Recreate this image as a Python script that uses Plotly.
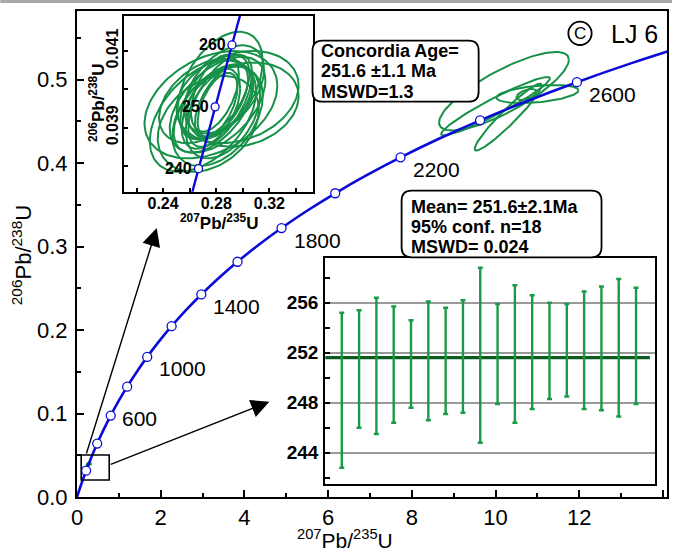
import numpy as np
import plotly.graph_objects as go

# ---------------- data ----------------
# Concordia curve (age in Ma, 207Pb/235U, 206Pb/238U)
conc_age = [0, 100, 200, 300, 400, 500, 600, 700, 800, 900, 1000, 1100, 1200, 1300, 1400,
            1500, 1600, 1700, 1800, 1900, 2000, 2100, 2200, 2300, 2400, 2500, 2600, 2700, 2800]
conc_x = [0.0, 0.10350, 0.21771, 0.34373, 0.48281, 0.63624, 0.80558, 0.99243, 1.19862, 1.42615,
          1.67744, 1.95452, 2.26031, 2.59777, 2.97010, 3.38104, 3.83431, 4.33487, 4.88666, 5.49588,
          6.16852, 6.91045, 7.72920, 8.63272, 9.62961, 10.72982, 11.94343, 13.28352, 14.76090]
conc_y = [0.0, 0.015633, 0.031511, 0.047637, 0.064016, 0.080650, 0.097544, 0.114702, 0.132128,
          0.149826, 0.167802, 0.186060, 0.204603, 0.223436, 0.242563, 0.261987, 0.281717, 0.301754,
          0.322103, 0.342773, 0.363766, 0.385086, 0.406739, 0.428730, 0.451067, 0.473751, 0.496791,
          0.520190, 0.543957]
marker_ages = [200, 400, 600, 800, 1000, 1200, 1400, 1600, 1800, 2000, 2200, 2400, 2600]
label_ages = [600, 1000, 1400, 1800, 2200, 2600]
label_dx = [9, 10, 10, 10, 10, 10]      # pixel offsets of the age labels
label_dy = [-3, -12, -12, -12, -12, -12]

# Concordia in the zoomed inset
inset_age = [230, 240, 250, 260, 270]
inset_x = [0.254222, 0.266636, 0.279172, 0.291831, 0.304617]
inset_y = [0.036323, 0.037932, 0.039543, 0.041157, 0.042773]
inset_marker_ages = [240, 250, 260]

# Concordant spot error ellipses (centre, half-widths, correlation)
spot_x = [0.276, 0.296, 0.270, 0.281, 0.283, 0.278, 0.285, 0.279, 0.283,
          0.276, 0.281, 0.286, 0.274, 0.284, 0.281, 0.272, 0.300, 0.279]
spot_y = [0.0396, 0.0398, 0.0393, 0.0396, 0.0401, 0.0395, 0.0394, 0.0398, 0.0397,
          0.0395, 0.0393, 0.0400, 0.0391, 0.0397, 0.0396, 0.0397, 0.0396, 0.0399]
spot_sx = [0.050, 0.046, 0.040, 0.036, 0.032, 0.030, 0.028, 0.026, 0.024,
           0.022, 0.034, 0.030, 0.038, 0.020, 0.015, 0.035, 0.042, 0.018]
spot_sy = [0.00140, 0.00120, 0.00145, 0.00125, 0.00140, 0.00115, 0.00120, 0.00110, 0.00120,
           0.00105, 0.00130, 0.00115, 0.00125, 0.00095, 0.00083, 0.00110, 0.00110, 0.00100]
spot_rho = [0.35, 0.25, 0.45, 0.50, 0.45, 0.55, 0.40, 0.55, 0.60,
            0.50, 0.40, 0.45, 0.30, 0.60, 0.55, 0.40, 0.20, 0.50]

# Old (inherited) grains near 2500 Ma
old_x = [10.2, 10.0, 11.0, 10.74, 10.3]
old_y = [0.486, 0.468, 0.4826, 0.482, 0.455]
old_sx = [1.55, 1.3, 0.98, 0.24, 0.8]
old_sy = [0.047, 0.035, 0.0108, 0.0066, 0.040]
old_rho = [0.80, 0.95, 0.40, 0.50, 0.95]

# Weighted mean plot (206Pb/238U ages, Ma, and 2-sigma errors)
spot_age = [249.0, 250.7, 250.95, 251.05, 251.1, 251.35, 251.35, 251.7, 251.8,
            251.9, 251.9, 252.05, 252.15, 252.2, 252.2, 252.35, 252.4, 252.55]
spot_err = [6.2, 4.7, 5.45, 4.65, 3.5, 4.75, 4.25, 4.5, 7.0,
            4.0, 5.5, 4.55, 3.85, 3.7, 4.7, 4.95, 5.5, 4.65]
mean_age = 251.6

# ---------------- helpers ----------------
W, H = 674, 555
L, R, T, B = 77, 669, 11, 497
FONT = "Liberation Sans, Arial, sans-serif"
BLUE = "#0b0bd8"
GREEN = "#179148"
BARGREEN = "#1a9a48"


def pxx(xp):
    return (xp - L) / (R - L)


def pxy(yp):
    return (B - yp) / (B - T)


def ellipses(cx, cy, sx, sy, rho, n=120):
    xs, ys = [], []
    t = np.linspace(0, 2 * np.pi, n)
    for a, b, c, d, r in zip(cx, cy, sx, sy, rho):
        xs += list(a + c * np.cos(t)) + [None]
        ys += list(b + d * (r * np.cos(t) + np.sqrt(1 - r * r) * np.sin(t))) + [None]
    return xs, ys


def rounded(x0, y0, x1, y1, r):
    pts = [("M", x0 + r, y0), ("L", x1 - r, y0), ("Q", x1, y0, x1, y0 + r),
           ("L", x1, y1 - r), ("Q", x1, y1, x1 - r, y1), ("L", x0 + r, y1),
           ("Q", x0, y1, x0, y1 - r), ("L", x0, y0 + r), ("Q", x0, y0, x0 + r, y0)]
    s = ""
    for p in pts:
        if p[0] == "Q":
            s += "Q%.5f,%.5f %.5f,%.5f " % (pxx(p[1]), pxy(p[2]), pxx(p[3]), pxy(p[4]))
        else:
            s += "%s%.5f,%.5f " % (p[0], pxx(p[1]), pxy(p[2]))
    return s + "Z"


fig = go.Figure()

# ---------------- main concordia ----------------
ex, ey = ellipses(old_x, old_y, old_sx, old_sy, old_rho)
fig.add_trace(go.Scatter(x=ex, y=ey, mode="lines", line=dict(color=GREEN, width=2),
                         xaxis="x", yaxis="y"))
sx_, sy_ = ellipses(spot_x, spot_y, spot_sx, spot_sy, spot_rho)
fig.add_trace(go.Scatter(x=sx_, y=sy_, mode="lines", line=dict(color=GREEN, width=1.5),
                         xaxis="x", yaxis="y"))
fig.add_trace(go.Scatter(x=conc_x, y=conc_y, mode="lines", line=dict(color=BLUE, width=2.6, shape="spline"),
                         xaxis="x", yaxis="y"))
mx = [conc_x[conc_age.index(a)] for a in marker_ages]
my = [conc_y[conc_age.index(a)] for a in marker_ages]
fig.add_trace(go.Scatter(x=mx, y=my, mode="markers",
                         marker=dict(size=9, color="white", line=dict(color=BLUE, width=1.3)),
                         xaxis="x", yaxis="y"))

annotations = []
for a, dx, dy in zip(label_ages, label_dx, label_dy):
    i = conc_age.index(a)
    annotations.append(dict(x=conc_x[i], y=conc_y[i], xref="x", yref="y", text=str(a),
                            showarrow=False, xanchor="left", yanchor="middle",
                            xshift=dx, yshift=dy, font=dict(size=21, family=FONT, color="black")))

# ---------------- inset 1 (zoomed concordia) ----------------
fig.add_trace(go.Scatter(x=sx_, y=sy_, mode="lines", line=dict(color=GREEN, width=2),
                         xaxis="x2", yaxis="y2"))
fig.add_trace(go.Scatter(x=inset_x, y=inset_y, mode="lines", line=dict(color=BLUE, width=2.4),
                         xaxis="x2", yaxis="y2"))
ix = [inset_x[inset_age.index(a)] for a in inset_marker_ages]
iy = [inset_y[inset_age.index(a)] for a in inset_marker_ages]
fig.add_trace(go.Scatter(x=ix, y=iy, mode="markers",
                         marker=dict(size=8, color="white", line=dict(color=BLUE, width=1.3)),
                         xaxis="x2", yaxis="y2"))
for a, xx, yy in zip(inset_marker_ages, ix, iy):
    annotations.append(dict(x=xx, y=yy, xref="x2", yref="y2", text="<b>%d</b>" % a,
                            showarrow=False, xanchor="right", yanchor="middle", xshift=-4,
                            font=dict(size=16, family=FONT, color="black")))

# ---------------- inset 2 (weighted mean) ----------------
idx = list(range(1, len(spot_age) + 1))
fig.add_trace(go.Scatter(x=[0.04, 18.8], y=[mean_age, mean_age], mode="lines",
                         line=dict(color="#0c5a20", width=3.2), xaxis="x3", yaxis="y3"))
fig.add_trace(go.Scatter(x=idx, y=spot_age, mode="markers",
                         marker=dict(size=1, color="rgba(0,0,0,0)"),
                         error_y=dict(type="data", array=spot_err, color=BARGREEN, thickness=2.4, width=2.5),
                         xaxis="x3", yaxis="y3"))

# ---------------- layout ----------------
tickfont = dict(size=22, family=FONT, color="black")
fig.update_layout(
    width=W, height=H, margin=dict(l=L, r=W - R, t=T, b=H - B),
    paper_bgcolor="white", plot_bgcolor="white", showlegend=False,
    font=dict(family=FONT, color="black"),
    xaxis=dict(domain=[0, 1], range=[0, (R - L) / 42.0], anchor="y", showgrid=False, zeroline=False,
               showline=True, mirror=True, linecolor="black", linewidth=2,
               ticks="inside", ticklen=7, tickwidth=1.5, tickcolor="black", tick0=0, dtick=2,
               minor=dict(ticks="inside", dtick=1, ticklen=4, tickwidth=1.5, tickcolor="black"),
               tickfont=tickfont, ticklabelstandoff=0),
    yaxis=dict(domain=[0, 1], range=[0, (B - T) / 835.0], anchor="x", showgrid=False, zeroline=False,
               showline=True, mirror=True, linecolor="black", linewidth=2,
               ticks="inside", ticklen=7, tickwidth=1.5, tickcolor="black", tick0=0, dtick=0.1,
               tickformat=".1f",
               minor=dict(ticks="inside", dtick=0.05, ticklen=4, tickwidth=1.5, tickcolor="black"),
               tickfont=tickfont, ticklabelstandoff=3),
    xaxis2=dict(domain=[pxx(124.3), pxx(313.3)], range=[0.21068, 0.35247], anchor="y2",
                showgrid=False, zeroline=False, showline=True, mirror=True, linecolor="black", linewidth=2,
                ticks="inside", ticklen=4, tickwidth=1.5, tickcolor="black", tick0=0.24, dtick=0.04,
                tickformat=".2f",
                minor=dict(ticks="inside", dtick=0.02, ticklen=4, tickwidth=1.5, tickcolor="black"),
                tickfont=dict(size=16, family=FONT, color="black", weight="bold"), ticklabelstandoff=-4),
    yaxis2=dict(domain=[pxy(191.7), pxy(15.7)], range=[0.037331, 0.041920], anchor="x2",
                showgrid=False, zeroline=False, showline=True, mirror=True, linecolor="black", linewidth=2,
                ticks="inside", ticklen=4, tickwidth=1.5, tickcolor="black", tick0=0.039, dtick=0.002,
                tickformat=".3f", tickangle=-90,
                minor=dict(ticks="inside", dtick=0.001, ticklen=4, tickwidth=1.5, tickcolor="black"),
                tickfont=dict(size=16, family=FONT, color="black", weight="bold"), ticklabelstandoff=-2),
    xaxis3=dict(domain=[pxx(326), pxx(656.7)], range=[0.04, 19.08], anchor="y3",
                showgrid=False, zeroline=False, showline=True, mirror=True, linecolor="black", linewidth=2,
                ticks="", showticklabels=False),
    yaxis3=dict(domain=[pxy(484), pxy(258.3)], range=[241.5, 259.55], anchor="x3",
                showgrid=True, gridcolor="#9a9a9a", gridwidth=2, zeroline=False,
                showline=True, mirror=True, linecolor="black", linewidth=2,
                ticks="inside", ticklen=5, tickwidth=1.5, tickcolor="black", tick0=244, dtick=4,
                minor=dict(ticks="inside", dtick=2, ticklen=5, tickwidth=1.5, tickcolor="black", showgrid=False),
                tickfont=dict(size=19, family=FONT, color="black", weight="bold"), ticklabelstandoff=1),
)

# axis titles
annotations += [
    dict(x=pxx(346), y=pxy(539), xref="paper", yref="paper", showarrow=False,
         text="<sup>207</sup>Pb/<sup>235</sup>U", font=dict(size=21, family=FONT, color="black"),
         xanchor="center", yanchor="middle"),
    dict(x=pxx(22), y=pxy(255), xref="paper", yref="paper", showarrow=False, textangle=-90,
         text="<sup>206</sup>Pb/<sup>238</sup>U", font=dict(size=22, family=FONT, color="black"),
         xanchor="center", yanchor="middle"),
    dict(x=pxx(219), y=pxy(222), xref="paper", yref="paper", showarrow=False,
         text="<b><sup>207</sup>Pb/<sup>235</sup>U</b>", font=dict(size=17, family=FONT, color="black"),
         xanchor="center", yanchor="middle"),
    dict(x=pxx(97), y=pxy(103), xref="paper", yref="paper", showarrow=False, textangle=-90,
         text="<b><sup>206</sup>Pb/<sup>238</sup>U</b>", font=dict(size=17, family=FONT, color="black"),
         xanchor="center", yanchor="middle"),
]

# text boxes
conc_lines = ["Concordia Age=", "251.6 \u00b11.1 Ma", "MSWD=1.3"]
for s, yy in zip(conc_lines, [51, 71.5, 91.5]):
    annotations.append(dict(x=pxx(320), y=pxy(yy), xref="paper", yref="paper", showarrow=False,
                            text="<b>%s</b>" % s, xanchor="left", yanchor="middle",
                            font=dict(size=18, family=FONT, color="black")))
mean_lines = ["Mean= 251.6\u00b12.1Ma", "95% conf. n=18", "MSWD= 0.024"]
for s, yy in zip(mean_lines, [207, 227, 246.5]):
    annotations.append(dict(x=pxx(410), y=pxy(yy), xref="paper", yref="paper", showarrow=False,
                            text="<b>%s</b>" % s, xanchor="left", yanchor="middle",
                            font=dict(size=18, family=FONT, color="black")))

# sample label
annotations.append(dict(x=pxx(581.7), y=pxy(33.5), xref="paper", yref="paper", showarrow=False,
                        text="C", xanchor="center", yanchor="middle",
                        font=dict(size=17, family=FONT, color="black")))
annotations.append(dict(x=pxx(611), y=pxy(34), xref="paper", yref="paper", showarrow=False,
                        text="LJ 6", xanchor="left", yanchor="middle",
                        font=dict(size=25, family=FONT, color="black")))

# arrows from the zoom box
arrow_tail = [(0.214, 0.0503), (0.77, 0.0383)]
arrow_tip = [(1.905, 0.3222), (4.595, 0.1141)]
for (tx, ty), (hx, hy) in zip(arrow_tail, arrow_tip):
    annotations.append(dict(x=hx, y=hy, ax=tx, ay=ty, xref="x", yref="y", axref="x", ayref="y",
                            text="", showarrow=True, arrowhead=2, arrowsize=2.6, arrowwidth=1.4,
                            arrowcolor="black"))

shapes = [
    dict(type="rect", xref="paper", yref="paper", x0=pxx(0), x1=pxx(W), y0=pxy(3), y1=pxy(0),
         fillcolor="#a8a8a8", line=dict(width=0), layer="above"),
    dict(type="rect", xref="x", yref="y", x0=0.1, x1=0.77, y0=0.0204, y1=0.0503,
         line=dict(color="black", width=1.6)),
    dict(type="path", xref="paper", yref="paper", path=rounded(313.3, 40.7, 480, 101.7, 10),
         line=dict(color="black", width=1.8), fillcolor="white"),
    dict(type="path", xref="paper", yref="paper", path=rounded(402.7, 190.7, 603.3, 257.3, 10),
         line=dict(color="black", width=1.8), fillcolor="white"),
    dict(type="circle", xref="paper", yref="paper", x0=pxx(570), x1=pxx(593.4), y0=pxy(45), y1=pxy(21.6),
         line=dict(color="black", width=1.8)),
]

fig.update_layout(annotations=annotations, shapes=shapes)
fig.write_html("out.html")
